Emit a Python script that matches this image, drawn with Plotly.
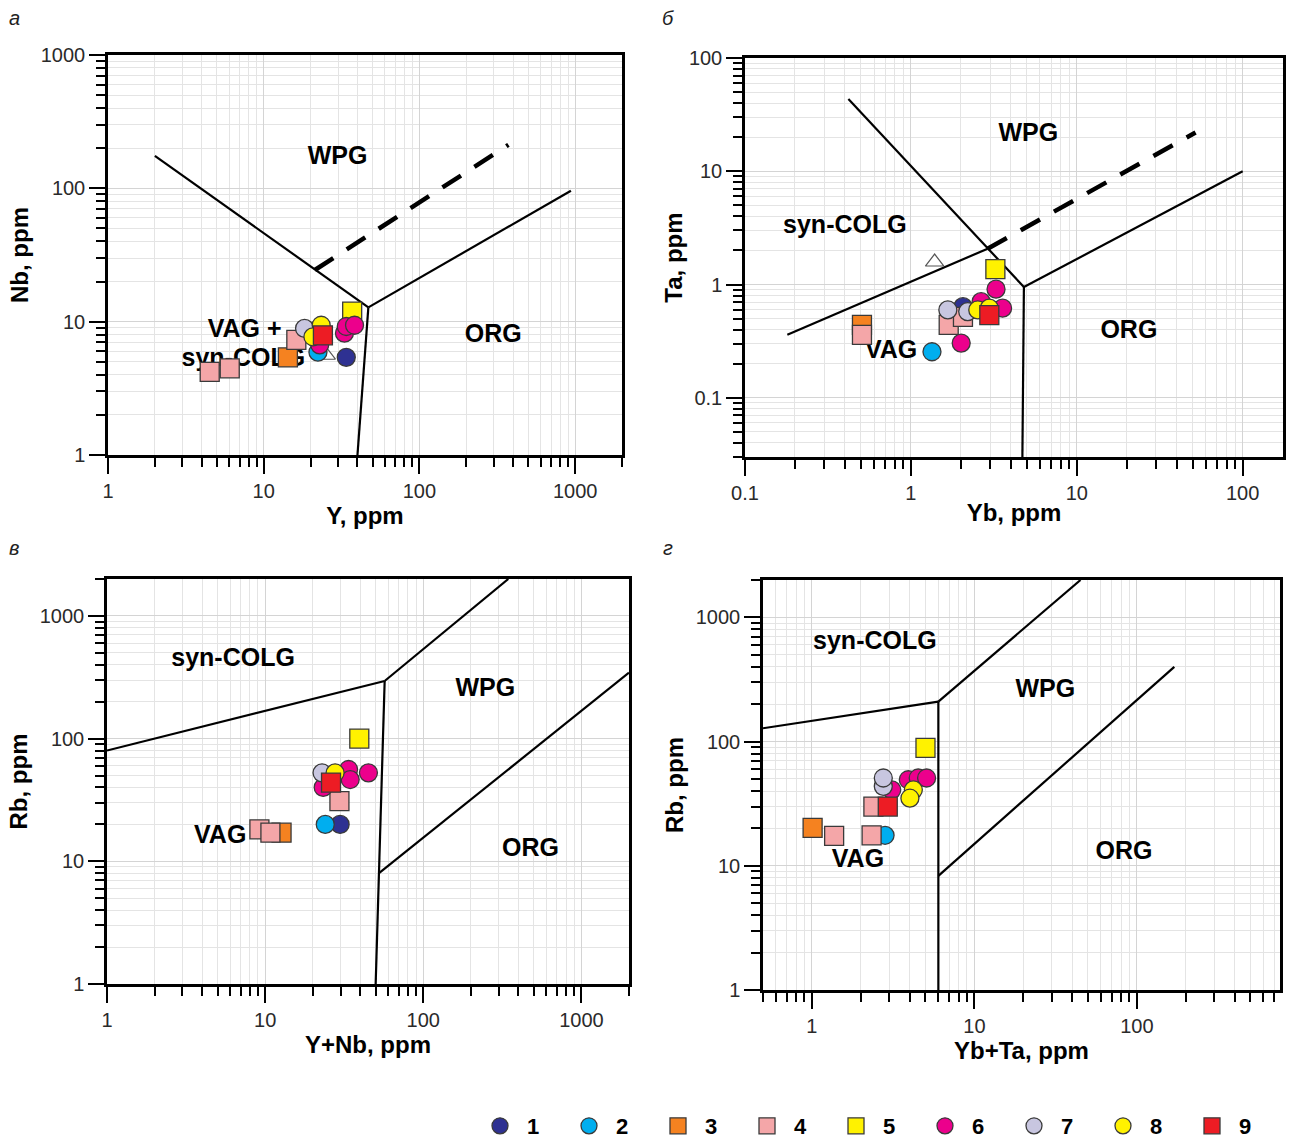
import plotly.graph_objects as go
import math

# ---------------- series definitions ----------------
series_ids = [1, 2, 3, 4, 5, 6, 7, 8, 9]
series_colors = ["#2E3192", "#00AEEF", "#F58220", "#F4A6A8", "#FFF200",
                 "#EC008C", "#C8C6E0", "#FFF200", "#ED1C24"]
series_symbols = ["circle", "circle", "square", "square", "square",
                  "circle", "circle", "circle", "square"]

# ---------------- panel а: Nb vs Y ----------------
a_Y = [33.9, 22.3, 14.3, 4.5, 6.05, 16.2, 37.0, 22.9, 33.0, 33.9, 38.3, 18.3, 23.4, 20.7, 24.0]
a_Nb = [5.4, 5.9, 5.4, 4.2, 4.47, 7.3, 11.9, 6.7, 8.2, 9.2, 9.4, 8.9, 9.4, 7.7, 7.9]
a_grp = [1, 2, 3, 4, 4, 4, 5, 6, 6, 6, 6, 7, 8, 8, 9]
a_tri_Y = [25.2]
a_tri_Nb = [5.6]

# ---------------- panel б: Ta vs Yb ----------------
b_Yb = [2.06, 1.34, 0.507, 0.507, 1.69, 2.06, 3.23, 2.01, 2.65, 3.57, 3.26, 1.67, 2.2, 2.53, 2.97, 2.97]
b_Ta = [0.638, 0.255, 0.44, 0.359, 0.44, 0.518, 1.37, 0.304, 0.706, 0.618, 0.91, 0.597, 0.577, 0.597, 0.618, 0.536]
b_grp = [1, 2, 3, 4, 4, 4, 5, 6, 6, 6, 6, 7, 7, 8, 8, 9]
b_tri_Yb = [1.39]
b_tri_Ta = [1.58]

# ---------------- panel в: Rb vs Y+Nb ----------------
c_YNb = [29.8, 24.0, 12.7, 9.2, 10.8, 29.5, 39.4, 33.7, 34.5, 45.0, 23.3, 22.9, 27.7, 26.1]
c_Rb = [20.0, 20.0, 17.1, 18.2, 17.1, 30.9, 100, 56.0, 46.4, 52.6, 40.0, 52.6, 52.6, 43.8]
c_grp = [1, 2, 3, 4, 4, 4, 5, 6, 6, 6, 6, 7, 8, 9]

# ---------------- panel г: Rb vs Yb+Ta ----------------
d_YbTa = [2.82, 1.01, 1.37, 2.33, 2.39, 5.0, 3.1, 3.92, 4.51, 5.08, 2.75, 2.75, 4.21, 4.01, 2.93]
d_Rb = [17.6, 20.2, 17.4, 17.6, 30.0, 89.0, 40.9, 49.3, 50.9, 50.9, 43.6, 50.9, 40.9, 35.0, 30.0]
d_grp = [2, 3, 4, 4, 4, 5, 6, 6, 6, 6, 7, 7, 8, 8, 9]

# ---------------- discrimination boundaries (Pearce et al.) ----------------
a_bound_wpg_x = [2, 47];      a_bound_wpg_y = [175, 12.8]
a_bound_org_x = [47, 940];    a_bound_org_y = [12.8, 96]
a_bound_vag_x = [47, 40];     a_bound_vag_y = [12.8, 1]
a_dash_x = [21.3, 373];       a_dash_y = [24.4, 212]

b_bound_wpg_x = [0.42, 4.8];  b_bound_wpg_y = [43.5, 0.95]
b_bound_org_x = [4.8, 100];   b_bound_org_y = [0.95, 10]
b_bound_vag_x = [4.8, 4.7];   b_bound_vag_y = [0.95, 0.03]
b_bound_syn_x = [0.18, 2.9];  b_bound_syn_y = [0.36, 2.07]
b_dash_x = [2.9, 52];         b_dash_y = [2.07, 22]

c_bound_syn_x = [1, 57];      c_bound_syn_y = [80, 295]
c_bound_wpg_x = [57, 345];    c_bound_wpg_y = [295, 2000]
c_bound_vag_x = [57, 52.5, 50]; c_bound_vag_y = [295, 8, 1]
c_bound_org_x = [52.5, 2000]; c_bound_org_y = [8, 345]

d_bound_syn_x = [0.5, 6];     d_bound_syn_y = [128, 210]
d_bound_wpg_x = [6, 45];      d_bound_wpg_y = [210, 2000]
d_bound_vag_x = [6, 6];       d_bound_vag_y = [210, 1]
d_bound_org_x = [6, 170];     d_bound_org_y = [8.3, 400]

# region labels
a_lab_text = ["WPG", "VAG +", "syn-COLG", "ORG"]
a_lab_x = [29.8, 7.55, 7.4, 298];   a_lab_y = [169, 8.5, 5.15, 7.8]
b_lab_text = ["WPG", "syn-COLG", "VAG", "ORG"]
b_lab_x = [5.1, 0.40, 0.76, 20.6];  b_lab_y = [20.9, 3.22, 0.254, 0.382]
c_lab_text = ["syn-COLG", "WPG", "VAG", "ORG"]
c_lab_x = [6.27, 247, 5.2, 476];    c_lab_y = [438, 250, 16, 12.5]
d_lab_text = ["syn-COLG", "WPG", "VAG", "ORG"]
d_lab_x = [2.44, 27.3, 1.92, 83.3]; d_lab_y = [627, 255, 11, 12.8]

W, H = 1290, 1139
FONT = "Liberation Sans, Arial, sans-serif"

fig = go.Figure()

panels = [
    ("x", "y", a_Y, a_Nb, a_grp),
    ("x2", "y2", b_Yb, b_Ta, b_grp),
    ("x3", "y3", c_YNb, c_Rb, c_grp),
    ("x4", "y4", d_YbTa, d_Rb, d_grp),
]

bounds = [
    ("x", "y", [(a_bound_wpg_x, a_bound_wpg_y), (a_bound_org_x, a_bound_org_y), (a_bound_vag_x, a_bound_vag_y)], (a_dash_x, a_dash_y)),
    ("x2", "y2", [(b_bound_wpg_x, b_bound_wpg_y), (b_bound_org_x, b_bound_org_y), (b_bound_vag_x, b_bound_vag_y), (b_bound_syn_x, b_bound_syn_y)], (b_dash_x, b_dash_y)),
    ("x3", "y3", [(c_bound_syn_x, c_bound_syn_y), (c_bound_wpg_x, c_bound_wpg_y), (c_bound_vag_x, c_bound_vag_y), (c_bound_org_x, c_bound_org_y)], None),
    ("x4", "y4", [(d_bound_syn_x, d_bound_syn_y), (d_bound_wpg_x, d_bound_wpg_y), (d_bound_vag_x, d_bound_vag_y), (d_bound_org_x, d_bound_org_y)], None),
]

for xa, ya, segs, dash in bounds:
    for sx, sy in segs:
        fig.add_trace(go.Scatter(x=sx, y=sy, xaxis=xa, yaxis=ya, mode="lines",
                                 line=dict(color="black", width=2.2), showlegend=False,
                                 hoverinfo="skip"))
    if dash is not None:
        fig.add_trace(go.Scatter(x=dash[0], y=dash[1], xaxis=xa, yaxis=ya, mode="lines",
                                 line=dict(color="black", width=4.5, dash="22px,16px"),
                                 showlegend=False, hoverinfo="skip"))

labels = [
    ("x", "y", a_lab_text, a_lab_x, a_lab_y),
    ("x2", "y2", b_lab_text, b_lab_x, b_lab_y),
    ("x3", "y3", c_lab_text, c_lab_x, c_lab_y),
    ("x4", "y4", d_lab_text, d_lab_x, d_lab_y),
]
for xa, ya, t, lx, ly in labels:
    fig.add_trace(go.Scatter(x=lx, y=ly, text=t, mode="text", xaxis=xa, yaxis=ya,
                             textfont=dict(family=FONT, size=25, color="black", weight="bold"),
                             showlegend=False, hoverinfo="skip"))

# open triangles
for xa, ya, tx, ty in [("x", "y", a_tri_Y, a_tri_Nb), ("x2", "y2", b_tri_Yb, b_tri_Ta)]:
    fig.add_trace(go.Scatter(x=tx, y=ty, xaxis=xa, yaxis=ya, mode="markers",
                             marker=dict(symbol="triangle-up-open", size=16,
                                         color="#555555", line=dict(width=1.2)),
                             showlegend=False, hoverinfo="skip"))

# data series
for pi, (xa, ya, xs, ys, gs) in enumerate(panels):
    for si, sid in enumerate(series_ids):
        px = [x for x, g in zip(xs, gs) if g == sid]
        py = [y for y, g in zip(ys, gs) if g == sid]
        sym = series_symbols[si]
        fig.add_trace(go.Scatter(
            x=px, y=py, xaxis=xa, yaxis=ya, mode="markers", name=str(sid),
            legendgroup=str(sid), showlegend=(pi == 0),
            marker=dict(symbol=sym, size=19 if sym == "square" else 18,
                        color=series_colors[si],
                        line=dict(color="#3a3a3a", width=1.3)),
        ))


def axis(rng, domain, anchor, title=None, standoff=5):
    d = dict(
        type="log", range=rng, domain=domain, anchor=anchor, automargin=False,
        showline=True, linecolor="black", linewidth=2.5, mirror=True,
        ticks="outside", ticklen=16, tickwidth=2, tickcolor="black",
        dtick=1, exponentformat="none",
        showgrid=True, gridcolor="#d4d4d4", gridwidth=1, zeroline=False,
        tickfont=dict(family=FONT, size=20, color="#2a2a2a"),
        minor=dict(dtick="D1", ticks="outside", ticklen=9, tickwidth=2, tickcolor="black",
                   showgrid=True, gridcolor="#e4e4e4", gridwidth=1),
    )
    if title:
        d["title"] = dict(text="<b>" + title + "</b>", standoff=standoff,
                          font=dict(family=FONT, size=24, color="black"))
    return d


L = math.log10

fig.update_layout(
    width=W, height=H, margin=dict(l=0, r=0, t=0, b=0, autoexpand=False),
    paper_bgcolor="white", plot_bgcolor="white",
    xaxis=axis([0, L(2000)], [108 / W, 622 / W], "y", "Y, ppm", 0),
    yaxis=axis([0, 3], [1 - 455 / H, 1 - 55 / H], "x", "Nb, ppm", 6),
    xaxis2=axis([-1, L(175)], [745 / W, 1283 / W], "y2", "Yb, ppm", 2),
    yaxis2=axis([L(0.03), 2], [1 - 457 / H, 1 - 58 / H], "x2", "Ta, ppm", 0),
    xaxis3=axis([0, L(2000)], [107 / W, 629 / W], "y3", "Y+Nb, ppm", 0),
    yaxis3=axis([0, L(2000)], [1 - 984 / H, 1 - 579 / H], "x3", "Rb, ppm", 6),
    xaxis4=axis([L(0.5), L(760)], [763 / W, 1280 / W], "y4", "Yb+Ta, ppm", 0),
    yaxis4=axis([0, L(2000)], [1 - 990 / H, 1 - 580 / H], "x4", "Rb, ppm", 6),
    legend=dict(orientation="h", x=473 / W, xanchor="left", y=1 - 1126 / H, yanchor="middle",
                itemwidth=44, entrywidth=30, entrywidthmode="pixels", itemsizing="trace",
                font=dict(family=FONT, size=22, color="black", weight="bold"),
                bgcolor="rgba(0,0,0,0)", traceorder="normal"),
    showlegend=True,
)

for txt, px, py in [("а", 14, 18), ("б", 668, 18), ("в", 14, 548), ("г", 668, 548)]:
    fig.add_annotation(x=px / W, y=1 - py / H, xref="paper", yref="paper", text="<i>" + txt + "</i>",
                       showarrow=False, xanchor="center", yanchor="middle",
                       font=dict(family=FONT, size=20, color="#222222"))

fig.write_html("out.html")
